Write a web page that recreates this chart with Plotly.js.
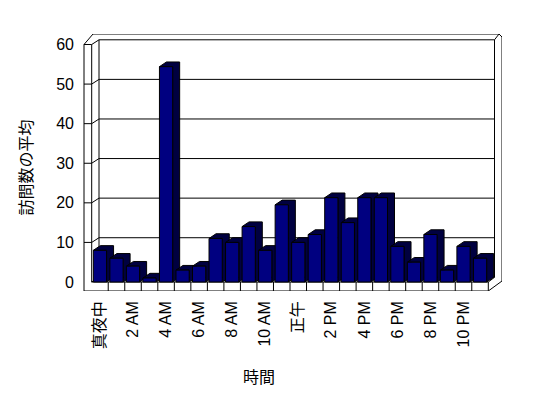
<!DOCTYPE html>
<html><head><meta charset="utf-8">
<script src="https://cdn.plot.ly/plotly-3.0.1.min.js"></script>
<style>html,body{margin:0;padding:0;background:#fff;}#chart{width:548px;height:398px;}</style>
</head><body><div id="chart"></div>
<script>
// ---- data ----
const hours = ['真夜中','1 AM','2 AM','3 AM','4 AM','5 AM','6 AM','7 AM','8 AM','9 AM','10 AM','11 AM',
               '正午','1 PM','2 PM','3 PM','4 PM','5 PM','6 PM','7 PM','8 PM','9 PM','10 PM','11 PM'];
const avgVisits = [8, 6, 4, 1, 54.4, 3, 4, 11, 10, 14, 8, 19.5, 10, 12, 21.3, 15, 21.3, 21.3, 9, 5, 12, 3, 9, 6];
const yTicks = [0, 10, 20, 30, 40, 50, 60];
const yTitle = '訪問数の平均';
const xTitle = '時間';

// ---- geometry (styling of the pseudo-3D frame) ----
const L = 83, R = 46, T = 34, B = 107;
const W = 548 - L - R, H = 398 - T - B;
const kx = (488.3 - 91.7) / 24;      // px per category
const ky = (282 - 44.5) / 60;        // px per y unit
const xr = [-0.5 - (91.7 - L) / kx, 23.5 + (548 - R - 488.3) / kx];
const yr = [-(T + H - 282) / ky, 60 + (44.5 - T) / ky];
const X = px => xr[0] + (px - L) / kx;
const Y = py => yr[0] + (T + H - py) / ky;
const DX = 7.3 / kx, DY = 4.7 / ky;  // wall depth
const BDX = 7 / kx, BDY = 4.7 / ky;  // bar depth
const HW = 0.4;                      // half bar width
const FONT = 'Liberation Sans, Noto Sans CJK JP, sans-serif';

const ln = (x0, y0, x1, y1) => ({type:'line', xref:'x', yref:'y', layer:'below', x0, y0, x1, y1,
  line:{color:'#000', width:1}});
const shapes = [];
// outer silhouette
shapes.push({type:'path', xref:'x', yref:'y', layer:'below',
  path: `M${X(84)},${Y(291)} L${X(84)},${Y(44.5)} L${X(93)},${Y(34)} L${X(499)},${Y(34)} L${X(502)},${Y(37)} L${X(502)},${Y(281)} L${X(488.3)},${Y(291)} Z`,
  line:{color:'#000', width:1}, fillcolor:'#fff'});
// left wall front face inner edge & top
shapes.push(ln(-0.5, 0, -0.5, 60));
shapes.push(ln(X(84), 60, -0.5, 60));
shapes.push(ln(-0.5, 60, -0.5 + DX, 60 + DY));
// back wall
shapes.push(ln(-0.5 + DX, 60 + DY, X(494.5), 60 + DY));
shapes.push(ln(-0.5 + DX, DY, -0.5 + DX, 60 + DY));
shapes.push(ln(X(494.5), DY, X(494.5), 60 + DY));
shapes.push(ln(X(494.5), 60 + DY, X(499), Y(34)));
// floor
shapes.push(ln(-0.5, 0, 23.5, 0));
shapes.push(ln(23.5, 0, 23.5, Y(291)));
shapes.push(ln(23.5, 0, X(494.5), DY));
shapes.push(ln(-0.5, 0, -0.5 + DX, DY));
shapes.push(ln(-0.5 + DX, DY, X(494.5), DY));
for (let k = 1; k < hours.length; k++) shapes.push(ln(k - 0.5, 0, k - 0.5, Y(291)));
// grid on walls
yTicks.filter(v => v > 0 && v < 60).forEach(v => {
  shapes.push(ln(X(84), v, -0.5, v));
  shapes.push(ln(-0.5, v, -0.5 + DX, v + DY));
  shapes.push(ln(-0.5 + DX, v + DY, X(494.5), v + DY));
});

// ---- traces ----
const traces = [];
avgVisits.forEach((v, i) => {
  traces.push({
    type:'scatter', mode:'lines', fill:'toself', fillcolor:'#000040',
    x:[i - HW, i - HW + BDX, i + HW + BDX, i + HW + BDX, i + HW, i + HW, i - HW],
    y:[v, v + BDY, v + BDY, BDY, 0, v, v],
    line:{color:'#000', width:1}, hoverinfo:'skip', showlegend:false, xaxis:'x', yaxis:'y'
  });
});
traces.push({
  type:'bar', x: hours.map((h, i) => i), y: avgVisits, width: 2 * HW,
  marker:{color:'#000080', line:{color:'#000', width:1}},
  xaxis:'x2', yaxis:'y2', showlegend:false, customdata: hours, textposition:'none',
  hovertemplate:'%{customdata}: %{y}<extra></extra>'
});

const evenIdx = hours.map((h, i) => i).filter(i => i % 2 === 0);
const layout = {
  width:548, height:398, margin:{l:L, r:R, t:T, b:B},
  paper_bgcolor:'#fff', plot_bgcolor:'rgba(0,0,0,0)', showlegend:false,
  font:{family:FONT, size:16, color:'#000'},
  xaxis:{range:xr, showgrid:false, zeroline:false, showline:false, ticks:'',
    tickmode:'array', tickvals:evenIdx, ticktext:evenIdx.map(i => hours[i]),
    tickangle:-90, tickfont:{family:FONT, size:16, color:'#000'}, ticklabelstandoff:6},
  yaxis:{range:yr, showgrid:false, zeroline:false, showline:false, ticks:'',
    tickmode:'array', tickvals:yTicks, ticktext:yTicks.map(String),
    tickfont:{family:FONT, size:16, color:'#000'}, ticklabelstandoff:8},
  xaxis2:{overlaying:'x', anchor:'y2', range:xr, visible:false},
  yaxis2:{overlaying:'y', anchor:'x2', range:yr, visible:false},
  shapes: shapes,
  annotations:[
    {text:yTitle, xref:'paper', yref:'paper', x:(26.5 - L) / W, y:(T + H - 168) / H,
     showarrow:false, textangle:-90, font:{family:FONT, size:16, color:'#000'}, xanchor:'center', yanchor:'middle'},
    {text:xTitle, xref:'paper', yref:'paper', x:(259 - L) / W, y:(T + H - 377) / H,
     showarrow:false, font:{family:FONT, size:16, color:'#000'}, xanchor:'center', yanchor:'middle'}
  ]
};
Plotly.newPlot('chart', traces, layout, {staticPlot:true, displayModeBar:false});
</script>
</body></html>
